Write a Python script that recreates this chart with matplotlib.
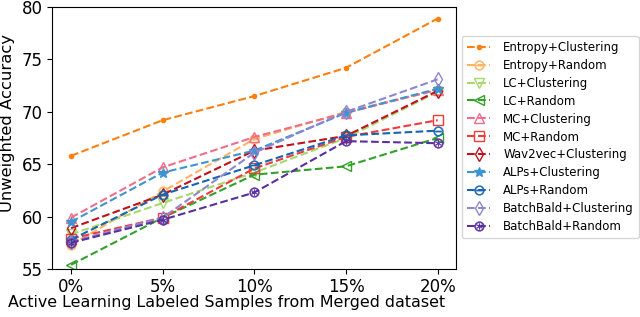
import matplotlib
matplotlib.use("Agg")
import matplotlib.pyplot as plt

x_vals = [0, 5, 10, 15, 20]
x_labels = ["0%", "5%", "10%", "15%", "20%"]

entropy_clustering = [65.8, 69.2, 71.5, 74.2, 78.9]
entropy_random = [57.3, 62.4, 67.4, 70.0, 72.1]
lc_clustering = [58.3, 61.3, 64.2, 67.5, 71.9]
lc_random = [55.4, 59.9, 64.0, 64.8, 67.5]
mc_clustering = [59.9, 64.7, 67.6, 69.9, 72.1]
mc_random = [57.9, 59.9, 64.6, 67.6, 69.2]
wav2vec_clustering = [58.9, 62.1, 66.3, 67.7, 72.0]
alps_clustering = [59.5, 64.2, 66.3, 69.9, 72.2]
alps_random = [57.8, 62.1, 64.9, 67.75, 68.2]
batchbald_clustering = [57.6, 59.9, 66.1, 70.0, 73.1]
batchbald_random = [57.5, 59.7, 62.3, 67.2, 67.0]

series = [
    ("Entropy+Clustering", entropy_clustering, "#ff7f0e", "."),
    ("Entropy+Random", entropy_random, "#fdb462", r"$\ominus$"),
    ("LC+Clustering", lc_clustering, "#a6d96a", "v"),
    ("LC+Random", lc_random, "#33a02c", "<"),
    ("MC+Clustering", mc_clustering, "#f26d8a", "^"),
    ("MC+Random", mc_random, "#f03b3b", "s"),
    ("Wav2vec+Clustering", wav2vec_clustering, "#c00f1e", "d"),
    ("ALPs+Clustering", alps_clustering, "#3e94d0", "*"),
    ("ALPs+Random", alps_random, "#1565b0", r"$\ominus$"),
    ("BatchBald+Clustering", batchbald_clustering, "#8f86d0", "d"),
    ("BatchBald+Random", batchbald_random, "#5a2f9e", r"$\circledast$"),
]

fig = plt.figure(figsize=(6.4, 3.17), dpi=100)
ax = fig.add_axes([52/640, 1-269/317, (456-52)/640, (269-7)/317])

for name, vals, color, marker in series:
    kw = dict(color=color, linestyle="--", linewidth=1.5, marker=marker, label=name)
    if marker.startswith("$"):
        kw["markersize"] = 7
        kw["markeredgewidth"] = 0.3
    elif marker == ".":
        kw["markersize"] = 6
    elif marker == "*":
        kw["markersize"] = 7
    else:
        kw["markersize"] = 7
        kw["markerfacecolor"] = "none"
        kw["markeredgewidth"] = 1.0
    ax.plot(x_vals, vals, **kw)

ax.set_ylim(55, 80)
ax.set_xlim(-1.04, 21.0)
ax.set_xticks(x_vals)
ax.set_xticklabels(x_labels)
ax.set_yticks([55, 60, 65, 70, 75, 80])
ax.tick_params(labelsize=12, pad=3)
ax.set_xlabel("Active Learning Labeled Samples from Merged dataset", fontsize=11.4)
ax.set_ylabel("Unweighted Accuracy", fontsize=11.8)
ax.xaxis.set_label_coords((227-52)/404, -(303-269)/262)
ax.yaxis.set_label_coords(-(52-8)/404, (269-123)/262)
ax.xaxis.label.set_verticalalignment("center")
ax.yaxis.label.set_verticalalignment("center")

fig.legend(loc="upper left", bbox_to_anchor=(462/640, 1-36/317), fontsize=8.5,
           borderaxespad=0, handlelength=2, handletextpad=1.1, labelspacing=0.42)

fig.savefig("out.png", dpi=100)
